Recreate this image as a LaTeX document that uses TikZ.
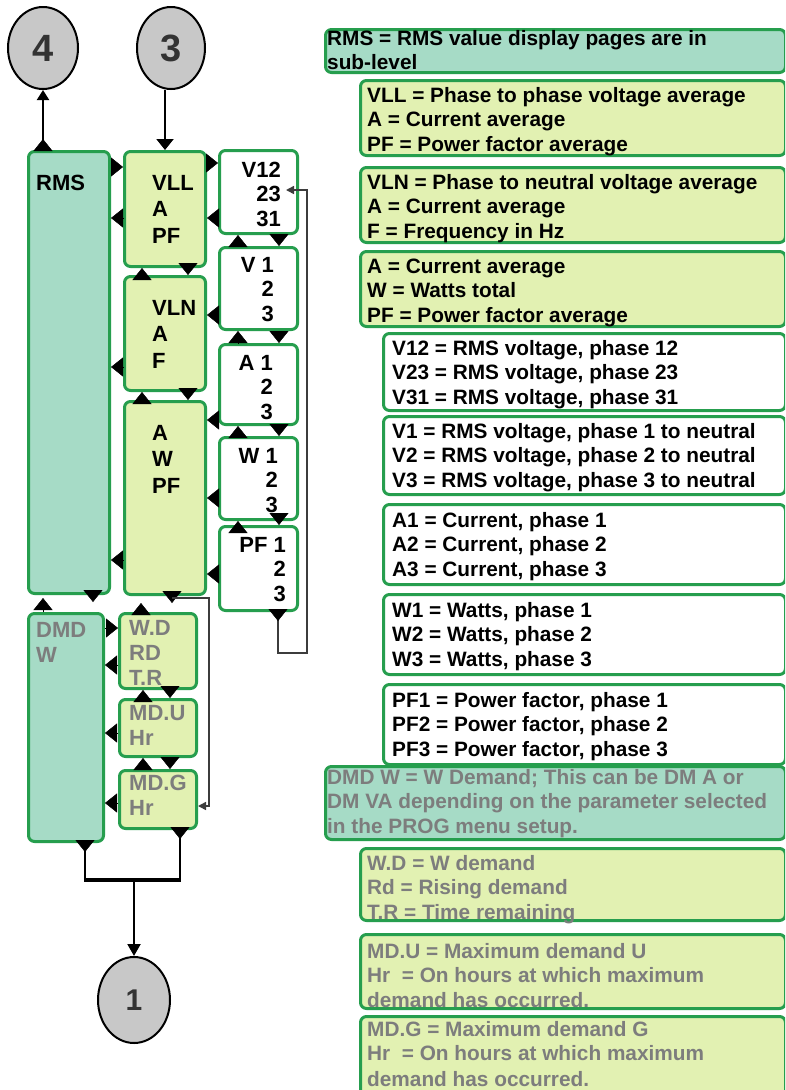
\documentclass[tikz,border=0pt]{standalone}
\usepackage{fontspec}
\setmainfont{Liberation Sans}
\usetikzlibrary{arrows.meta,shapes.geometric}
\definecolor{bgreen}{RGB}{38,158,78}
\definecolor{tealfill}{RGB}{166,219,198}
\definecolor{lgfill}{RGB}{226,241,178}
\definecolor{greytxt}{RGB}{125,125,125}
\definecolor{circfill}{RGB}{200,200,200}
\definecolor{linegrey}{RGB}{60,60,60}
\begin{document}
\begin{tikzpicture}[x=1pt,y=-1pt,
  box/.style={draw=bgreen, line width=3pt, rounded corners=6pt, inner sep=0pt, anchor=north west},
  tealbox/.style={box, fill=tealfill},
  greenbox/.style={box, fill=lgfill},
  whitebox/.style={box, fill=white},
  circ/.style={ellipse, draw=black, line width=2pt, fill=circfill, inner sep=0pt, text=black!80},
  ltxt/.style={inner sep=0pt, anchor=north west, align=left, yshift=18.55pt, font=\fontsize{22}{26.5}\selectfont\bfseries},
  rtxt/.style={inner sep=0pt, anchor=north east, align=right, yshift=17.15pt, font=\fontsize{22}{24.5}\selectfont\bfseries},
  gtxt/.style={inner sep=0pt, anchor=north west, align=left, yshift=17.5pt, text=greytxt, font=\fontsize{22}{25}\selectfont\bfseries},
  lgd/.style={inner sep=0pt, anchor=north west, align=left, yshift=17.08pt, font=\fontsize{20.8}{24.4}\selectfont\bfseries},
  key/.style={-{Triangle[length=12pt,width=19pt]}, line width=0.4pt, black},
  link/.style={line width=2pt, black},
  thinline/.style={line width=1.5pt, linegrey}
]
\useasboundingbox (0,0) rectangle (785,1090);
\clip (0,0) rectangle (785,1090);
\fill[white] (0,0) rectangle (785,1090);

% ---------- circles
\node[circ, minimum width=70pt, minimum height=82pt, font=\fontsize{38}{40}\selectfont\bfseries] (c4) at (43,48) {4};
\node[circ, minimum width=68pt, minimum height=82pt, font=\fontsize{38}{40}\selectfont\bfseries] (c3) at (171,48) {3};
\node[circ, minimum width=72pt, minimum height=86pt, font=\fontsize{30}{32}\selectfont\bfseries] (c1) at (134,1000) {1};

% ---------- left column boxes
\node[tealbox, minimum width=81pt, minimum height=442pt] (rms) at (27,150) {};
\node[greenbox, minimum width=81pt, minimum height=115pt] (vll) at (123,150) {};
\node[greenbox, minimum width=81pt, minimum height=114pt] (vln) at (123,275) {};
\node[greenbox, minimum width=81pt, minimum height=193pt] (awpf) at (123,400) {};
\node[whitebox, minimum width=78pt, minimum height=83pt] (v12) at (218,149) {};
\node[whitebox, minimum width=78pt, minimum height=82pt] (v1) at (218,246) {};
\node[whitebox, minimum width=78pt, minimum height=80pt] (a1) at (218,343) {};
\node[whitebox, minimum width=78pt, minimum height=82pt] (w1) at (218,436) {};
\node[whitebox, minimum width=78pt, minimum height=84pt] (pf) at (218,525) {};
\node[tealbox, minimum width=75pt, minimum height=228pt] (dmd) at (27,612) {};
\node[greenbox, minimum width=77pt, minimum height=75pt] (wd) at (118,612) {};
\node[greenbox, minimum width=77pt, minimum height=57pt] (mdu) at (118,698) {};
\node[greenbox, minimum width=77pt, minimum height=58pt] (mdg) at (118,769) {};

% ---------- left column texts
\node[ltxt] (rms-t) at (36,190) {\strut RMS};
\node[ltxt] (vll-t) at (152,190) {\strut VLL\\\strut A\\\strut PF};
\node[ltxt] (vln-t) at (152,315) {\strut VLN\\\strut A\\\strut F};
\node[ltxt] (awpf-t) at (152,440) {\strut A\\\strut W\\\strut PF};
\node[rtxt] (v12-t) at (281,177) {\strut V12\\\strut 23\\\strut 31};
\node[rtxt] (v1-t) at (274,272) {\strut V 1\\\strut 2\\\strut 3};
\node[rtxt] (a1-t) at (273,370) {\strut A 1\\\strut 2\\\strut 3};
\node[rtxt] (w1-t) at (278,463) {\strut W 1\\\strut 2\\\strut 3};
\node[rtxt] (pf-t) at (286,552) {\strut PF 1\\\strut 2\\\strut 3};
\node[gtxt] (dmd-t) at (36,637) {\strut DMD\\\strut W};
\node[gtxt] (wd-t) at (129,635) {\strut W.D\\\strut RD\\\strut T.R};
\node[gtxt] (mdu-t) at (129,720) {\strut MD.U\\\strut Hr};
\node[gtxt] (mdg-t) at (129,790) {\strut MD.G\\\strut Hr};

% ---------- legend boxes
\node[tealbox, minimum width=460pt, minimum height=43pt] (lrms) at (324,28) {};
\node[greenbox, minimum width=425pt, minimum height=75pt] (lvll) at (359,79) {};
\node[greenbox, minimum width=425pt, minimum height=75pt] (lvln) at (359,166) {};
\node[greenbox, minimum width=425pt, minimum height=75pt] (lawpf) at (359,250) {};
\node[whitebox, minimum width=402pt, minimum height=77pt] (lv12) at (382,332) {};
\node[whitebox, minimum width=402pt, minimum height=78pt] (lv1) at (382,415) {};
\node[whitebox, minimum width=402pt, minimum height=80pt] (la1) at (382,503) {};
\node[whitebox, minimum width=402pt, minimum height=80pt] (lw1) at (382,593) {};
\node[whitebox, minimum width=402pt, minimum height=80pt] (lpf) at (382,683) {};
\node[tealbox, minimum width=460pt, minimum height=73pt] (ldmd) at (324,765) {};
\node[greenbox, minimum width=425pt, minimum height=72pt] (lwd) at (359,847) {};
\node[greenbox, minimum width=425pt, minimum height=74pt] (lmdu) at (359,933) {};
\node[greenbox, minimum width=425pt, minimum height=80pt] (lmdg) at (359,1015) {};

% ---------- legend texts
\node[lgd] (lrms-t) at (327,45) {\strut RMS = RMS value display pages are in\\\strut sub-level};
\node[lgd] (lvll-t) at (367,102) {\strut VLL = Phase to phase voltage average\\\strut A = Current average\\\strut PF = Power factor average};
\node[lgd] (lvln-t) at (367,189) {\strut VLN = Phase to neutral voltage average\\\strut A = Current average\\\strut F = Frequency in Hz};
\node[lgd] (lawpf-t) at (367,273) {\strut A = Current average\\\strut W = Watts total\\\strut PF = Power factor average};
\node[lgd] (lv12-t) at (392,355) {\strut V12 = RMS voltage, phase 12\\\strut V23 = RMS voltage, phase 23\\\strut V31 = RMS voltage, phase 31};
\node[lgd] (lv1-t) at (392,438) {\strut V1 = RMS voltage, phase 1 to neutral\\\strut V2 = RMS voltage, phase 2 to neutral\\\strut V3 = RMS voltage, phase 3 to neutral};
\node[lgd] (la1-t) at (392,527) {\strut A1 = Current, phase 1\\\strut A2 = Current, phase 2\\\strut A3 = Current, phase 3};
\node[lgd] (lw1-t) at (392,617) {\strut W1 = Watts, phase 1\\\strut W2 = Watts, phase 2\\\strut W3 = Watts, phase 3};
\node[lgd] (lpf-t) at (392,707) {\strut PF1 = Power factor, phase 1\\\strut PF2 = Power factor, phase 2\\\strut PF3 = Power factor, phase 3};
\node[lgd, text=greytxt] (ldmd-t) at (327,784) {\strut DMD W = W Demand; This can be DM A or\\\strut DM VA depending on the parameter selected\\\strut in the PROG menu setup.};
\node[lgd, text=greytxt] (lwd-t) at (367,870) {\strut W.D = W demand\\\strut Rd = Rising demand\\\strut T.R = Time remaining};
\node[lgd, text=greytxt] (lmdu-t) at (367,958) {\strut MD.U = Maximum demand U\\\strut Hr~ = On hours at which maximum\\\strut demand has occurred.};
\node[lgd, text=greytxt] (lmdg-t) at (367,1036) {\strut MD.G = Maximum demand G\\\strut Hr~ = On hours at which maximum\\\rule{0pt}{17.08pt}demand has occurred.};

% ---------- coordinates for free ends and bends
\coordinate (busL) at (85,880);
\coordinate (busR) at (180,880);
\coordinate (busM) at (134,880);
\coordinate (loopA) at (278,653);
\coordinate (loopB) at (307,653);
\coordinate (loopC) at (307,190);
\coordinate (v23) at (286,190);
\coordinate (awA) at (172,598);
\coordinate (awB) at (209,598);
\coordinate (awC) at (209,806);

% ---------- links to circles
\draw[link, -{Triangle[length=10pt,width=12pt]}] (rms.north -| c4.south) -- (c4.south);
\draw[key, shorten >=49pt] (rms.north -| c4.south) -- (c4.south);
\draw[link, -{Triangle[length=11pt,width=17pt]}] (vll.north |- c3.south) -- (vll.north);

% ---------- horizontal keys
\draw[key] (rms.east |- 0,167) -- (vll.west |- 0,167);
\draw[key] (vll.west |- 0,218) -- (rms.east |- 0,218);
\draw[key] (vll.east |- 0,163) -- (v12.west |- 0,163);
\draw[key] (v12.west |- 0,218) -- (vll.east |- 0,218);
\draw[key] (v1.west |- 0,315) -- (vln.east |- 0,315);
\draw[key] (vln.west |- 0,367) -- (rms.east |- 0,367);
\draw[key] (a1.west |- 0,420) -- (awpf.east |- 0,420);
\draw[key] (w1.west |- 0,498) -- (awpf.east |- 0,498);
\draw[key] (pf.west |- 0,574) -- (awpf.east |- 0,574);
\draw[key] (awpf.west |- 0,560) -- (rms.east |- 0,560);
\draw[key] (dmd.east |- 0,628) -- (wd.west |- 0,628);
\draw[key] (wd.west |- 0,665) -- (dmd.east |- 0,665);
\draw[key] (mdu.west |- 0,733) -- (dmd.east |- 0,733);
\draw[key] (mdg.west |- 0,803) -- (dmd.east |- 0,803);

% ---------- vertical keys
\draw[key] (vln.north -| 142,0) -- (vll.south -| 142,0);
\draw[key] (vll.south -| 188,0) -- (vln.north -| 188,0);
\draw[key] (awpf.north -| 142,0) -- (vln.south -| 142,0);
\draw[key] (vln.south -| 188,0) -- (awpf.north -| 188,0);
\draw[key] (v1.north -| 238,0) -- (v12.south -| 238,0);
\draw[key] (v12.south -| 279,0) -- (v1.north -| 279,0);
\draw[key] (a1.north -| 238,0) -- (v1.south -| 238,0);
\draw[key] (v1.south -| 279,0) -- (a1.north -| 279,0);
\draw[key] (w1.north -| 238,0) -- (a1.south -| 238,0);
\draw[key] (a1.south -| 279,0) -- (w1.north -| 279,0);
\draw[key] (pf.north -| 238,0) -- (w1.south -| 238,0);
\draw[key] (w1.south -| 279,0) -- (pf.north -| 279,0);
\draw[key, shorten >=3pt] (dmd.north -| 43,0) -- (rms.south -| 43,0);
\draw[key, shorten >=10pt] (rms.south -| 93,0) -- (dmd.north -| 93,0);
\draw[key, shorten >=7pt] (wd.north -| 141,0) -- (awpf.south -| 141,0);
\draw[key, shorten >=9pt] (awpf.south -| 172,0) -- (wd.north -| 172,0);
\draw[key] (mdu.north -| 143,0) -- (wd.south -| 143,0);
\draw[key] (wd.south -| 170,0) -- (mdu.north -| 170,0);
\draw[key] (mdg.north -| 143,0) -- (mdu.south -| 143,0);
\draw[key] (mdu.south -| 170,0) -- (mdg.north -| 170,0);

% ---------- thin loop lines
\draw[thinline, -{Triangle[length=8pt,width=8pt]}] (pf.south -| loopA) -- (loopA) -- (loopB) -- (loopC) -- (v23);
\draw[key, shorten >=32pt] (pf.south -| loopA) -- (loopA);
\draw[thinline, -{Triangle[length=8pt,width=8pt]}] (awA) -- (awB) -- (awC) -- (mdg.east |- awC);

% ---------- bottom bus
\draw[line width=2.5pt] (dmd.south -| busL) -- (busL);
\draw[line width=2.5pt] (mdg.south -| busR) -- (busR);
\draw[line width=4pt] ([xshift=-1.25pt]busL) -- ([xshift=1.25pt]busR);
\draw[key, shorten >=28pt] (dmd.south -| busL) -- (busL);
\draw[key, shorten >=41pt] (mdg.south -| busR) -- (busR);
\draw[link, -{Triangle[length=12pt,width=13pt]}] (busM) -- (c1.north);
\end{tikzpicture}
\end{document}
